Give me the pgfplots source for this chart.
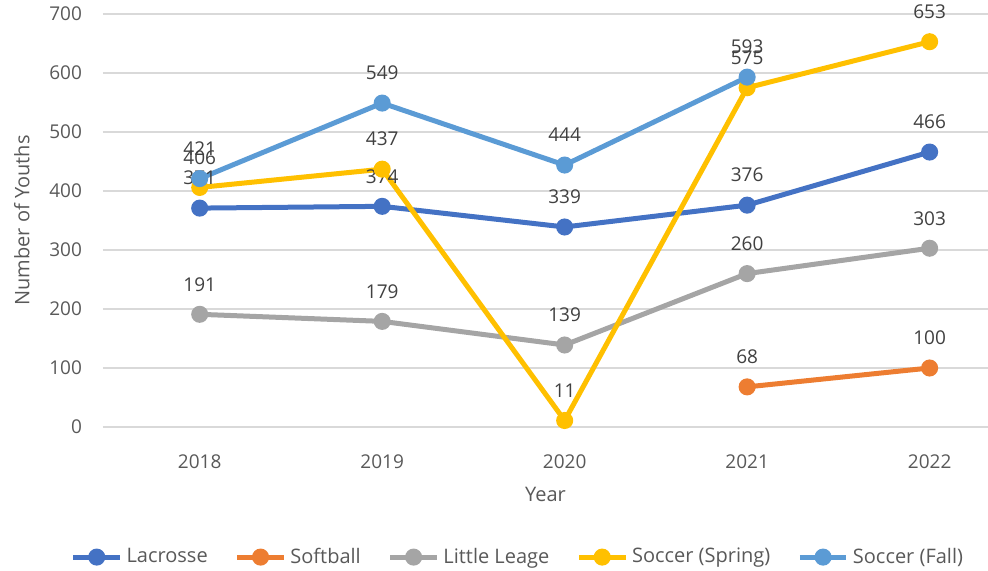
\documentclass[border=0pt]{standalone}
\usepackage{pgfplots}
\pgfplotsset{compat=1.18}
\usepackage{fontspec}
\setmainfont{Open Sans}
\definecolor{cLac}{HTML}{4472C4}
\definecolor{cSoft}{HTML}{ED7D31}
\definecolor{cLL}{HTML}{A5A5A5}
\definecolor{cSpr}{HTML}{FFC000}
\definecolor{cFall}{HTML}{5B9BD5}
\definecolor{cGrid}{HTML}{D9D9D9}
\definecolor{cTxt}{HTML}{595959}
\definecolor{cLab}{HTML}{404040}
\begin{document}
\begin{tikzpicture}
\begin{axis}[
  scale only axis,
  width=442.5pt, height=206.5pt,
  xmin=-0.53, xmax=4.32,
  ymin=0, ymax=700,
  ytick={0,100,...,700},
  xtick={0,1,2,3,4},
  xticklabels={2018,2019,2020,2021,2022},
  axis line style={draw=none},
  major tick length=0pt,
  ymajorgrids,
  grid style={cGrid, line width=0.8pt},
  font=\fontsize{9.5}{11}\selectfont,
  tick label style={color=cTxt},
  /pgf/number format/assume math mode=true,
  yticklabel style={xshift=-7pt},
  xticklabel style={yshift=-10.5pt},
  xlabel={Year},
  ylabel={Number of Youths},
  label style={color=cTxt, font=\fontsize{10}{12}\selectfont},
  xlabel style={yshift=-2pt},
  ylabel style={yshift=3pt},
  clip=false,
  every axis plot/.append style={line width=2.5pt, mark=*, mark size=3pt},
  nodes near coords,
  every node near coord/.append style={anchor=center, yshift=15pt, color=cLab, font=\fontsize{9.5}{11}\selectfont},
  legend columns=5,
  legend style={draw=none, fill=none, at={(0.47,-0.315)}, anchor=center, font=\fontsize{10}{12}\selectfont, text=cTxt,
    /tikz/every even column/.append style={column sep=11.5pt}},
  legend image code/.code={
    \draw[#1, mark=none] (0cm,0cm) -- (0.82cm,0cm);
    \fill[#1] (0.41cm,0cm) circle (3pt);
  },
]
\addplot[color=cLac] coordinates {(0,371) (1,374) (2,339) (3,376) (4,466)};
\addlegendentry{Lacrosse}
\addplot[color=cSoft] coordinates {(3,68) (4,100)};
\addlegendentry{Softball}
\addplot[color=cLL] coordinates {(0,191) (1,179) (2,139) (3,260) (4,303)};
\addlegendentry{Little Leage}
\addplot[color=cSpr] coordinates {(0,406) (1,437) (2,11) (3,575) (4,653)};
\addlegendentry{Soccer (Spring)}
\addplot[color=cFall] coordinates {(0,421) (1,549) (2,444) (3,593)};
\addlegendentry{Soccer (Fall)}
\end{axis}
\pgfresetboundingbox
\path ([xshift=-51.5pt,yshift=-72pt]current axis.south west) rectangle ([yshift=7pt]current axis.north east);
\end{tikzpicture}
\end{document}
